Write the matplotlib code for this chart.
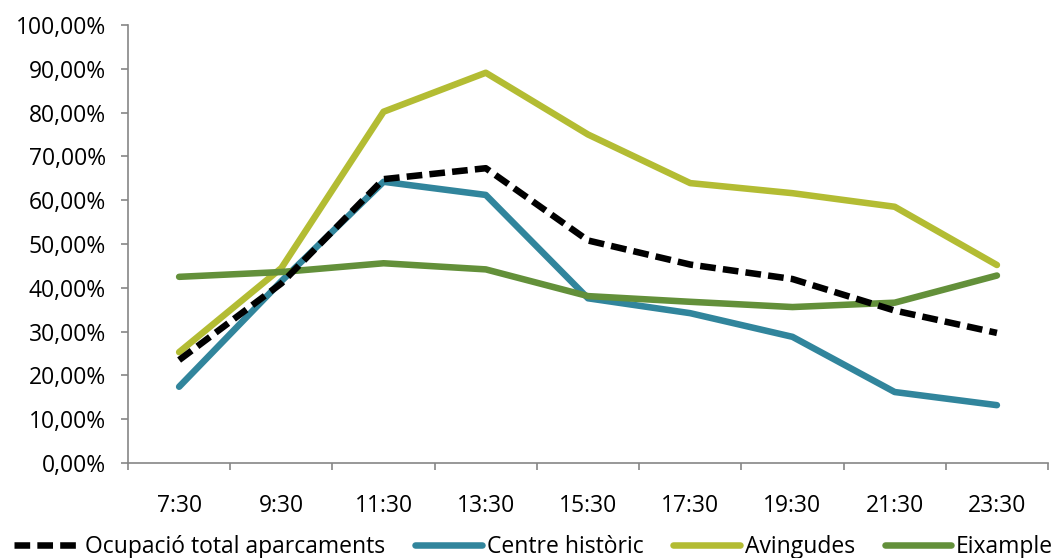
import matplotlib.pyplot as plt
import numpy as np
from matplotlib.ticker import FuncFormatter, FixedLocator

plt.rcParams['font.family'] = ['Open Sans', 'DejaVu Sans']

hores = ['7:30', '9:30', '11:30', '13:30', '15:30', '17:30', '19:30', '21:30', '23:30']

# ocupacio (%) per franja horaria
total = [23.5, 41.0, 64.8, 67.3, 50.8, 45.3, 42.0, 34.8, 29.7]
centre = [17.4, 41.5, 64.2, 61.2, 37.6, 34.2, 28.8, 16.2, 13.2]
avingudes = [25.3, 44.5, 80.2, 89.1, 75.0, 63.9, 61.6, 58.5, 45.2]
eixample = [42.5, 43.6, 45.6, 44.2, 38.1, 36.8, 35.6, 36.6, 42.8]

gris = '#868686'
mida = 16.5
gruix = 4.7

fig = plt.figure(figsize=(10.64, 5.58), dpi=100)
ax = fig.add_axes([0.1203, 0.1703, 0.8647, 0.7849])

x = np.arange(len(hores))
ax.plot(x, total, color='black', lw=gruix, dashes=(2.4, 1.1), dash_capstyle='butt',
        label='Ocupació total aparcaments', zorder=3)
ax.plot(x, centre, color='#31859C', lw=gruix, solid_capstyle='round', label='Centre històric')
ax.plot(x, avingudes, color='#B3BC33', lw=gruix, solid_capstyle='round', label='Avingudes')
ax.plot(x, eixample, color='#63903A', lw=gruix, solid_capstyle='round', label='Eixample')

ax.set_xlim(-0.5, len(hores) - 0.5)
ax.set_ylim(0, 100)
ax.set_yticks(np.arange(0, 101, 10))
ax.yaxis.set_major_formatter(FuncFormatter(lambda v, p: f'{v:.2f}%'.replace('.', ',')))

ax.set_xticks(x)
ax.set_xticklabels(hores)
ax.xaxis.set_minor_locator(FixedLocator(np.arange(-0.5, len(hores), 1)))
ax.tick_params(axis='x', which='major', length=0, pad=22, labelsize=mida)
ax.tick_params(axis='x', which='minor', length=5, width=1.2, color=gris, direction='out')
ax.tick_params(axis='y', length=5, width=1.2, color=gris, direction='out', pad=11, labelsize=mida)

for s in ['top', 'right']:
    ax.spines[s].set_visible(False)
for s in ['left', 'bottom']:
    ax.spines[s].set_color(gris)
    ax.spines[s].set_linewidth(1.2)

fig.legend(loc='center left', bbox_to_anchor=(0.013, 0.02), ncol=4, frameon=False,
           fontsize=mida, handlelength=2.9, handletextpad=0.22, columnspacing=1.3,
           borderaxespad=0, borderpad=0)

fig.savefig('out.png', dpi=100)
